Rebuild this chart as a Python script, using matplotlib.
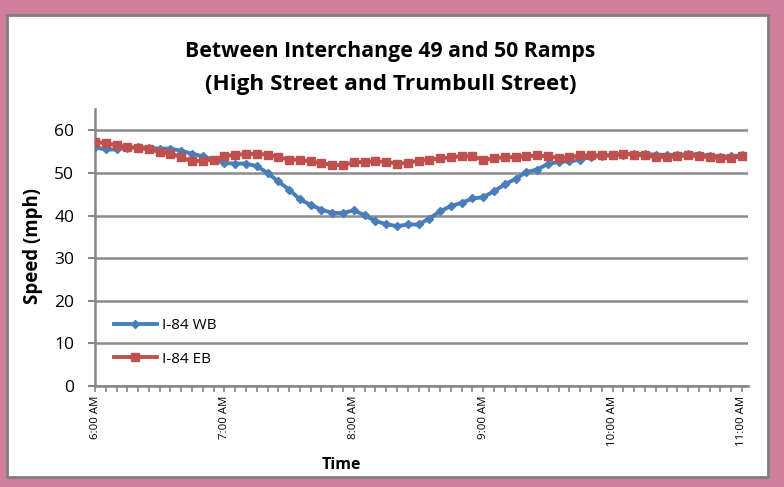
import numpy as np
import matplotlib
matplotlib.use('Agg')
import matplotlib.pyplot as plt
from matplotlib.patches import Rectangle
from matplotlib.ticker import MultipleLocator

# time of day in minutes after 6:00 AM, one sample every 5 min
minutes = np.arange(0, 301, 5)
hour_labels = ['6:00 AM', '7:00 AM', '8:00 AM', '9:00 AM', '10:00 AM', '11:00 AM']

wb_speed = [56.0, 55.5, 55.5, 55.9, 56.0, 55.9, 55.7, 55.7, 55.2, 54.5,
            53.9, 53.1, 52.3, 52.2, 52.2, 51.6, 50.0, 48.0, 46.1, 43.8,
            42.5, 41.4, 40.6, 40.6, 41.2, 40.1, 38.7, 38.0, 37.5, 37.9,
            37.9, 39.3, 41.0, 42.2, 43.0, 44.0, 44.3, 45.7, 47.3, 48.6,
            50.2, 50.8, 52.1, 52.6, 52.7, 53.1, 53.8, 54.0, 54.2, 54.3,
            54.5, 54.4, 54.3, 54.2, 54.2, 54.4, 54.3, 54.0, 53.8, 53.9,
            54.1]
eb_speed = [57.3, 57.0, 56.5, 56.0, 55.9, 55.5, 54.9, 54.5, 53.7, 52.7,
            52.9, 53.1, 53.9, 54.3, 54.4, 54.5, 54.3, 53.7, 53.1, 53.1,
            52.7, 52.3, 51.9, 51.8, 52.5, 52.6, 52.7, 52.6, 52.2, 52.3,
            52.9, 53.1, 53.4, 53.7, 53.9, 53.9, 53.1, 53.4, 53.7, 53.7,
            53.9, 54.1, 53.9, 53.5, 53.7, 54.1, 54.1, 54.1, 54.1, 54.5,
            54.3, 54.1, 53.7, 53.7, 53.9, 54.1, 53.9, 53.7, 53.5, 53.5,
            53.9]

plt.rcParams['font.family'] = ['Open Sans', 'DejaVu Sans']

W, H = 784, 487
fig = plt.figure(figsize=(W / 100, H / 100), dpi=100)
fig.patch.set_facecolor('#cf7e9b')

# white chart area with gray frame
fig.patches.append(Rectangle((7 / W, 1 - 477 / H), (768 - 7) / W, (477 - 15) / H,
                             transform=fig.transFigure, facecolor='white',
                             edgecolor='#7f7f7f', linewidth=2, zorder=-5))

ax = fig.add_axes([95 / W, 1 - 386 / H, (748 - 95) / W, (386 - 109) / H])
ax.set_facecolor('none')

blue = '#4a7ebb'
red = '#c0504d'
ax.plot(minutes, wb_speed, color=blue, lw=2.8, marker='D', markersize=4.5,
        label='I-84 WB', zorder=3)
ax.plot(minutes, eb_speed, color=red, lw=2.8, marker='s', markersize=6.2,
        label='I-84 EB', zorder=4)

ax.set_xlim(0, 300 * (748 - 95) / (742 - 95))
ax.set_ylim(0, 65)
ax.set_yticks(range(0, 61, 10))
ax.set_xticks(range(0, 301, 60))
ax.set_xticklabels(hour_labels, rotation=90, fontsize=8.2)
ax.xaxis.set_minor_locator(MultipleLocator(5))

gray = '#868686'
ax.yaxis.grid(True, color='#8c8c8c', lw=1.8)
ax.set_axisbelow(True)
for s in ['top', 'right']:
    ax.spines[s].set_visible(False)
for s in ['left', 'bottom']:
    ax.spines[s].set_color(gray)
    ax.spines[s].set_linewidth(1.8)
ax.tick_params(axis='y', which='major', length=5, width=1.5, color=gray,
               labelsize=12.5, pad=10)
ax.tick_params(axis='x', which='both', length=4, width=1.2, color=gray, pad=3)

fig.text(33 / W, 1 - 246 / H, 'Speed (mph)', fontsize=13.4, fontweight='bold',
         rotation=90, ha='center', va='center')
fig.text(341 / W, 1 - 469 / H, 'Time', fontsize=11.5, fontweight='bold',
         ha='center', va='baseline')
fig.text(390 / W, 1 - 57 / H, 'Between Interchange 49 and 50 Ramps',
         fontsize=15.3, fontweight='bold', ha='center', va='baseline')
fig.text(391 / W, 1 - 90 / H, '(High Street and Trumbull Street)',
         fontsize=16.2, fontweight='bold', ha='center', va='baseline')

ax.legend(loc='upper left', bbox_to_anchor=(114 / W, 1 - 318 / H),
          bbox_transform=fig.transFigure, frameon=False, fontsize=11,
          handlelength=2.8, handletextpad=0.35, labelspacing=1.22,
          borderpad=0, borderaxespad=0)

fig.savefig('out.png', dpi=100, facecolor=fig.get_facecolor())
